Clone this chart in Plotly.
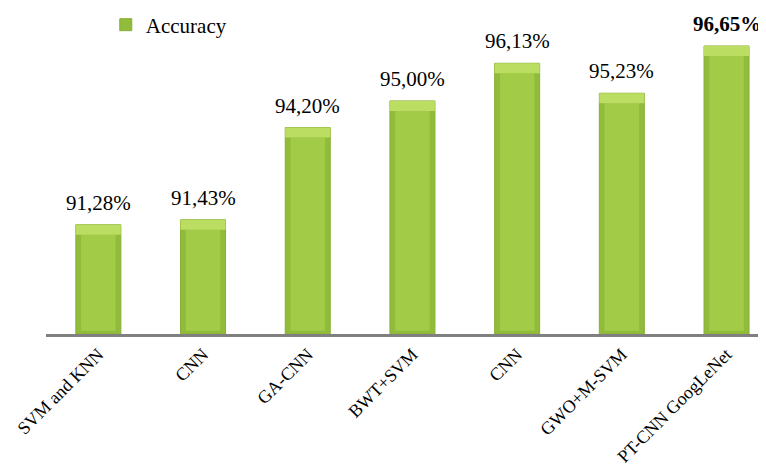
import plotly.graph_objects as go

categories = ["SVM and KNN", "CNN", "GA-CNN", "BWT+SVM", "CNN", "GWO+M-SVM", "PT-CNN GoogLeNet"]
accuracy = [91.28, 91.43, 94.20, 95.00, 96.13, 95.23, 96.65]
series_name = "Accuracy"

positions = list(range(len(categories)))
labels = [f"{v:.2f}%".replace(".", ",") for v in accuracy]
labels[-1] = f"<b>{labels[-1]}</b>"

FONT = "Liberation Serif, Times New Roman, serif"
BASE = 88.0

fig = go.Figure()
# outer (darker edge) bar
fig.add_trace(go.Bar(
    x=positions, y=[v - BASE for v in accuracy], base=BASE,
    width=0.43, name=series_name,
    marker=dict(color="#90BB3B", line=dict(color="#88B037", width=1)),
    showlegend=True,
))
# inner lighter face
fig.add_trace(go.Bar(
    x=positions, y=[v - BASE - 0.4 for v in accuracy], base=BASE + 0.1,
    width=0.33, marker=dict(color="#A2CB47", line=dict(width=0)),
    showlegend=False, hoverinfo="skip",
))
# top bevel highlight
fig.add_trace(go.Bar(
    x=positions, y=[0.3 for v in accuracy], base=[v - 0.3 for v in accuracy],
    width=0.43, marker=dict(color="#BADD62", line=dict(width=0)),
    showlegend=False, hoverinfo="skip",
))

for p, v, t in zip(positions, accuracy, labels):
    fig.add_annotation(
        x=p, y=v, text=t, showarrow=False, yanchor="bottom", yshift=8,
        font=dict(family=FONT, size=21, color="#000000"),
    )

fig.update_layout(
    width=758, height=461,
    margin=dict(l=38, r=0, t=12, b=135, autoexpand=False),
    paper_bgcolor="white", plot_bgcolor="white",
    barmode="overlay",
    font=dict(family=FONT, color="#000000"),
    showlegend=True,
    legend=dict(x=0.083, y=0.984, xanchor="left", yanchor="middle",
                font=dict(family=FONT, size=21), bgcolor="rgba(0,0,0,0)",
                itemwidth=30),
)
fig.update_xaxes(
    tickmode="array", tickvals=positions, ticktext=categories,
    tickangle=-45, tickfont=dict(family=FONT, size=18),
    range=[-0.5, 6.377], showline=True, linecolor="#808080", linewidth=2.5,
    showgrid=False, zeroline=False, ticks="", automargin=False,
)
fig.update_yaxes(
    range=[BASE, 97.43], visible=False, showgrid=False, zeroline=False,
)

fig.write_html("out.html")
